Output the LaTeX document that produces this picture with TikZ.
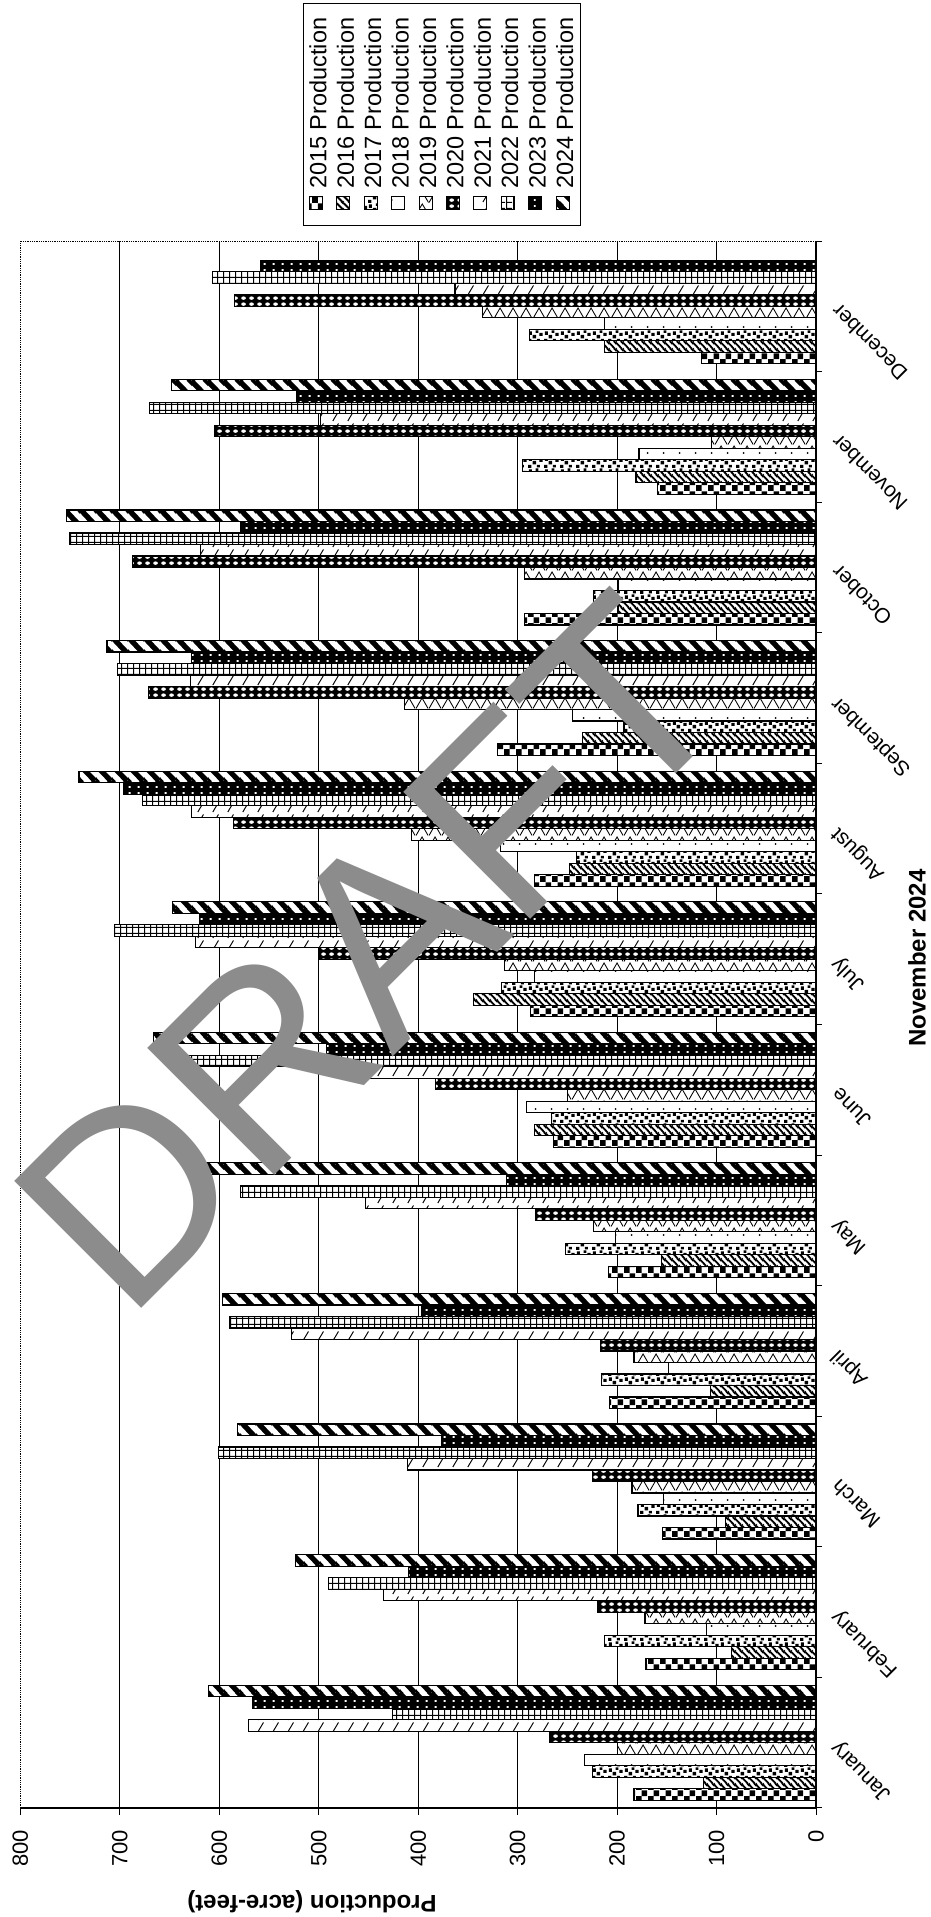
\documentclass[tikz,border=0pt]{standalone}
\usepackage{fontspec}
\setmainfont{Liberation Sans}
\usetikzlibrary{patterns.meta}
\definecolor{wmgray}{RGB}{140,140,140}

% ---- patterns (pt units, 1pt = 1 px of the reference) ----
\tikzdeclarepattern{name=pchk, type=uncolored,
  bottom left={(0pt,0pt)}, top right={(12pt,11.5pt)}, tile size={(12pt,11.5pt)},
  code={\fill (0pt,0pt) rectangle (6pt,5.75pt); \fill (6pt,5.75pt) rectangle (12pt,11.5pt);}}
\tikzdeclarepattern{name=phatch, type=uncolored,
  bottom left={(0pt,0pt)}, top right={(7pt,7pt)}, tile size={(7pt,7pt)},
  code={\draw[line width=2pt] (0pt,7pt)--(7pt,0pt) (-7pt,7pt)--(7pt,-7pt) (0pt,14pt)--(14pt,0pt);}}
\tikzdeclarepattern{name=pconf, type=uncolored,
  bottom left={(0pt,0pt)}, top right={(16pt,11.5pt)}, tile size={(16pt,11.5pt)},
  code={\fill (0pt,0pt) rectangle (3.5pt,3pt);
        \fill (5pt,3.5pt) rectangle (8.5pt,7pt);
        \fill (9.5pt,0.5pt) rectangle (12.5pt,3pt);
        \fill (12pt,6pt) rectangle (15.5pt,9pt);
        \fill (1pt,7pt) rectangle (4pt,10.5pt);
        \fill (8pt,9pt) rectangle (11pt,11.5pt);}}
\tikzdeclarepattern{name=pdots, type=uncolored,
  bottom left={(0pt,0pt)}, top right={(16pt,11.5pt)}, tile size={(16pt,11.5pt)},
  code={\fill (8pt,3pt) circle (1pt);}}
\tikzdeclarepattern{name=pzig, type=uncolored,
  bottom left={(0pt,0pt)}, top right={(13pt,11.5pt)}, tile size={(13pt,11.5pt)},
  code={\draw[line width=0.9pt] (0pt,0.5pt)--(6.5pt,11pt)--(13pt,0.5pt);}}
\tikzdeclarepattern{name=pellip, type=uncolored,
  bottom left={(0pt,0pt)}, top right={(8pt,5.75pt)}, tile size={(8pt,5.75pt)},
  code={\fill (4pt,2.875pt) ellipse (2.6pt and 1.7pt);}}
\tikzdeclarepattern{name=pslash, type=uncolored,
  bottom left={(0pt,0pt)}, top right={(15pt,11.5pt)}, tile size={(15pt,11.5pt)},
  code={\draw[line width=1pt] (3pt,1pt)--(9pt,10.5pt);}}
\tikzdeclarepattern{name=pgrid, type=uncolored,
  bottom left={(0pt,0pt)}, top right={(6.4pt,5.75pt)}, tile size={(6.4pt,5.75pt)},
  code={\fill (0pt,0pt) rectangle (6.4pt,1.1pt); \fill (0pt,0pt) rectangle (1.1pt,5.75pt);}}
\tikzdeclarepattern{name=pwdot, type=uncolored,
  bottom left={(0pt,0pt)}, top right={(9pt,5.75pt)}, tile size={(9pt,5.75pt)},
  code={\fill (3pt,2pt) rectangle (5pt,3.8pt);}}
\tikzdeclarepattern{name=pstripe, type=uncolored,
  bottom left={(0pt,0pt)}, top right={(16pt,16pt)}, tile size={(16pt,16pt)},
  code={\draw[line width=5.5pt] (0pt,16pt)--(16pt,0pt) (-16pt,16pt)--(16pt,-16pt) (0pt,32pt)--(32pt,0pt);}}

\tikzset{
  barbase/.style={draw=black, line width=1.2pt},
  yr0/.style={preaction={fill=white}, pattern=pchk},
  yr1/.style={preaction={fill=white}, pattern=phatch},
  yr2/.style={preaction={fill=white}, pattern=pconf},
  yr3/.style={preaction={fill=white}, pattern=pdots},
  yr4/.style={preaction={fill=white}, pattern=pzig},
  yr5/.style={preaction={fill=black}, pattern=pellip, pattern color=white},
  yr6/.style={preaction={fill=white}, pattern=pslash},
  yr7/.style={preaction={fill=white}, pattern=pgrid},
  yr8/.style={preaction={fill=black}, pattern=pwdot, pattern color=white},
  yr9/.style={preaction={fill=white}, pattern=pstripe},
  gridline/.style={draw=black, line width=0.9pt},
  borderline/.style={draw=black, line width=0.8pt, densely dotted},
  axisline/.style={draw=black, line width=1.4pt},
  tickline/.style={draw=black, line width=1pt},
  axlab/.style={font=\fontsize{22}{22}\selectfont, rotate=90, anchor=east, inner sep=0pt},
  mlab/.style={font=\fontsize{21}{21}\selectfont, rotate=135, anchor=east, inner sep=0pt},
  legtext/.style={font=\fontsize{23.5}{23.5}\selectfont, rotate=90, anchor=west, inner sep=0pt},
  title/.style={font=\bfseries\fontsize{24}{24}\selectfont, inner sep=0pt},
}

\newcommand\pbar[3]{%
  \ifdim #2pt>0pt
    \pgfmathsetmacro\yt{\gt+(9-#1)*11.5}%
    \pgfmathsetmacro\xl{816-#2*0.9945}%
    \draw[barbase,#3] (\xl,\yt) rectangle (816,{\yt+11.5});%
  \fi}
\newcommand\legent[3]{%
  \pgfmathsetmacro\lx{316+#1*27.4}%
  \draw[barbase,line width=0.9pt,#2] ({\lx-6.5},196.5) rectangle ({\lx+6.5},209.5);%
  \node[legtext] (leg#1) at ({\lx+2},189) {#3 Production};}

\begin{document}
\begin{tikzpicture}[x=1pt,y=-1pt]
\useasboundingbox (0,0) rectangle (931,1917);
\fill[white] (0,0) rectangle (931,1917);

% grid lines and plot border
\foreach \k in {1,...,7} \draw[gridline] ({816-\k*99.45},241) -- ({816-\k*99.45},1808);
\draw[borderline] (20.4,1808) -- (20.4,241) -- (816,241);

% bars: months Jan..Dec, years 2015..2024
\foreach \va/\vb/\vc/\vd/\ve/\vf/\vg/\vh/\vi/\vj [count=\mi from 0] in {
  183/113/225/233/200/268/571/426/567/611,
  171/85/213/110/172/220/435/490/410/523,
  154/91/179/153/185/225/411/601/376/582,
  208/106/216/148/183/217/527/590/397/597,
  209/155/252/202/224/282/453/579/311/633,
  264/283/266/291/250/383/465/632/492/666,
  287/344/316/283/313/500/624/705/620/647,
  283/248/241/317/407/586/628/677/696/741,
  320/235/193/245/414/671/629/702/628/713,
  293/199/224/199/293/687/619/751/579/754,
  159/181/295/178/105/605/498/670/522/648,
  115/213/288/213/335/585/363/607/558/0}
{
  \pgfmathsetmacro\gt{241+(11-\mi)*130.58+7.8}
  \pbar{0}{\va}{yr0}\pbar{1}{\vb}{yr1}\pbar{2}{\vc}{yr2}\pbar{3}{\vd}{yr3}\pbar{4}{\ve}{yr4}
  \pbar{5}{\vf}{yr5}\pbar{6}{\vg}{yr6}\pbar{7}{\vh}{yr7}\pbar{8}{\vi}{yr8}\pbar{9}{\vj}{yr9}
}

% axes
\draw[axisline] (816,241) -- (816,1808);
\draw[axisline] (20.4,1808) -- (816,1808);
\foreach \k in {0,...,12} \draw[tickline] (816,{241+\k*130.58}) -- (822,{241+\k*130.58});
\foreach \k in {0,...,8} \draw[tickline] ({816-\k*99.45},1808) -- ({816-\k*99.45},1815);

% value labels
\foreach \k/\t in {0/0,1/100,2/200,3/300,4/400,5/500,6/600,7/700,8/800}
  \node[axlab] (v\k) at ({816-\k*99.45},1830) {\t};

% month labels
\foreach \mn [count=\mi from 0] in {January,February,March,April,May,June,July,August,September,October,November,December}
  \node[mlab] (m\mi) at (835,{241+(11-\mi)*130.58+67}) {\mn};

% titles
\node[title, rotate=180] (ytitle) at (312,1902) {Production (acre-feet)};
\node[title, rotate=90] (xtitle) at (917,958) {November 2024};

% legend
\draw[line width=0.9pt] (303,3) rectangle (580,225);
\legent{0}{yr0}{2015}
\legent{1}{yr1}{2016}
\legent{2}{yr2}{2017}
\legent{3}{yr3}{2018}
\legent{4}{yr4}{2019}
\legent{5}{yr5}{2020}
\legent{6}{yr6}{2021}
\legent{7}{yr7}{2022}
\legent{8}{yr8}{2023}
\legent{9}{yr9}{2024}

% watermark
\node[font=\fontsize{261}{261}\selectfont, text=wmgray, rotate=45, anchor=base west, inner sep=0pt] (wm) at (126,1324) {DRAFT};
\end{tikzpicture}
\end{document}
